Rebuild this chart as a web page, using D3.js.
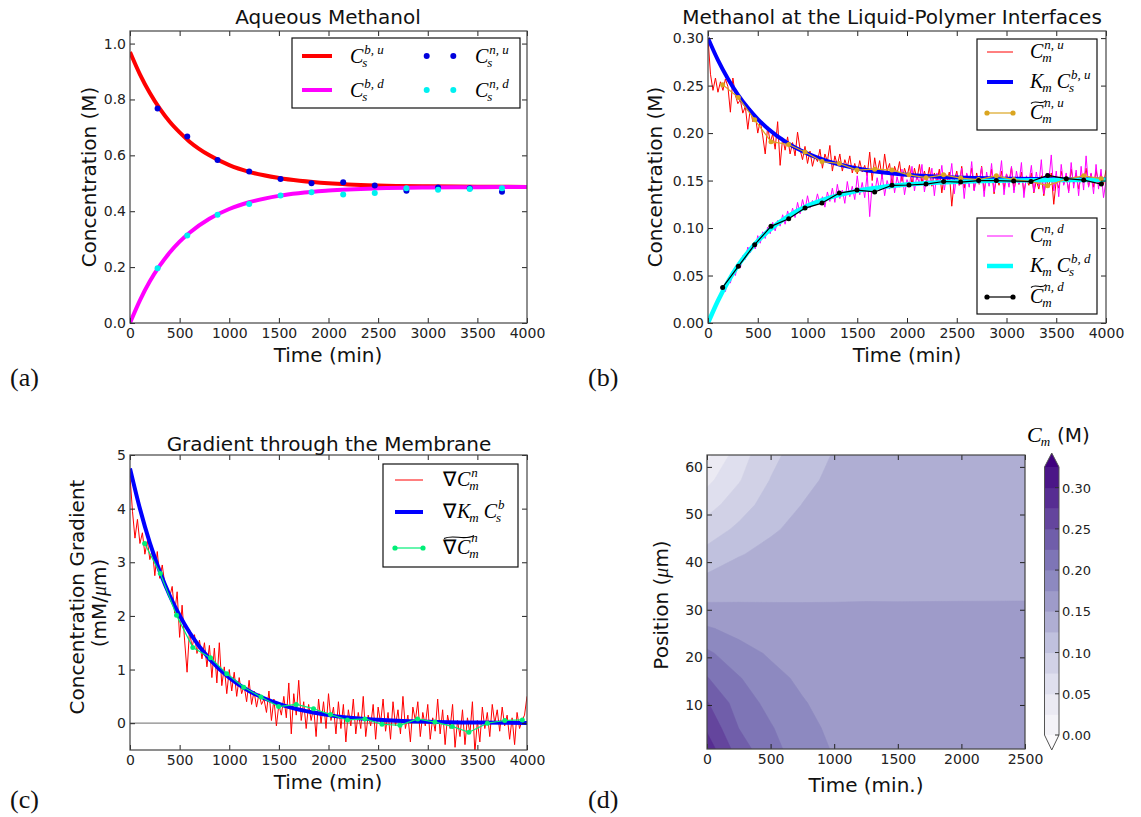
<!DOCTYPE html>
<html><head><meta charset="utf-8">
<script src="https://cdn.jsdelivr.net/npm/d3@7"></script>
<style>body{margin:0;background:#fff}svg{display:block}</style>
</head><body>
<svg id="fig" width="1141" height="817"></svg>
<script>
// ---------------- DATA ----------------
const curveTimes = [0,100,200,300,400,500,600,800,1000,1200,1500,2000,2500,3000,3500,4000];
// (a) aqueous methanol
const aqUpCurve   = [0.970,0.890,0.823,0.767,0.720,0.682,0.649,0.600,0.565,0.541,0.519,0.500,0.492,0.489,0.488,0.487];
const aqDownCurve = [0.000,0.081,0.149,0.205,0.252,0.291,0.323,0.373,0.408,0.432,0.455,0.474,0.482,0.485,0.486,0.487];
const aqDotTimes  = [278,577,882,1201,1517,1829,2148,2466,2785,3104,3423,3748];
const aqUpDots    = [0.768,0.667,0.583,0.542,0.515,0.500,0.504,0.492,0.473,0.485,0.482,0.470];
const aqDownDots  = [0.196,0.313,0.387,0.426,0.456,0.468,0.460,0.465,0.482,0.477,0.480,0.482];
// (b) interfaces
const ifUpCurve   = [0.300,0.2768,0.2572,0.2406,0.2266,0.2148,0.2049,0.1894,0.1784,0.1705,0.1627,0.1560,0.1531,0.1519,0.1514,0.1512];
const ifDownCurve = [0.000,0.0235,0.0434,0.0602,0.0743,0.0863,0.0964,0.1121,0.1233,0.1312,0.1391,0.1459,0.1488,0.1501,0.1506,0.1508];
const noisyTimes  = d3.range(0, 4001, 25);
const ifUpNoisy = [
 .300,.262,.245,.258,.243,.254,.245,.257,.249,.222,.258,.240,.231,.235,.221,.228,.204,.226,.212,.219,
 .200,.213,.197,.178,.207,.190,.199,.183,.212,.166,.195,.182,.196,.178,.190,.176,.201,.183,.172,.186,
 .168,.181,.165,.176,.170,.183,.163,.178,.170,.187,.160,.176,.166,.178,.160,.172,.164,.176,.158,.168,
 .157,.171,.159,.166,.155,.180,.150,.174,.158,.171,.152,.178,.160,.168,.146,.165,.157,.170,.149,.163,
 .154,.166,.145,.163,.151,.167,.147,.160,.150,.164,.144,.158,.149,.162,.137,.156,.147,.159,.123,.150,
 .160,.145,.165,.142,.157,.148,.163,.140,.158,.146,.165,.139,.155,.147,.162,.136,.154,.145,.160,.141,
 .157,.148,.164,.140,.153,.146,.159,.138,.152,.145,.158,.137,.150,.141,.155,.134,.151,.144,.158,.125,
 .150,.142,.160,.146,.155,.139,.162,.147,.158,.141,.156,.148,.163,.144,.157,.143,.161,.148,.157,.146,
 .161];
const ifDownNoisy = [
 .000,.008,.011,.019,.024,.027,.036,.033,.046,.042,.054,.050,.063,.058,.071,.067,.080,.074,.083,.078,
 .092,.084,.096,.089,.101,.094,.106,.097,.108,.102,.114,.104,.118,.109,.121,.111,.127,.115,.130,.119,
 .134,.121,.129,.124,.136,.125,.133,.122,.138,.128,.142,.127,.146,.131,.140,.126,.149,.133,.144,.130,
 .155,.135,.148,.132,.158,.112,.147,.136,.153,.139,.157,.134,.150,.141,.160,.137,.154,.143,.162,.135,
 .151,.144,.165,.139,.156,.146,.167,.138,.154,.145,.163,.134,.158,.147,.166,.140,.156,.148,.168,.136,
 .157,.145,.163,.131,.158,.143,.170,.139,.155,.147,.164,.133,.159,.144,.168,.138,.156,.148,.171,.135,
 .157,.143,.165,.137,.160,.146,.169,.132,.155,.148,.166,.138,.159,.144,.172,.136,.158,.149,.177,.139,
 .160,.133,.167,.145,.158,.137,.169,.142,.161,.134,.165,.140,.176,.143,.158,.136,.167,.141,.162,.132,
 .150];
const avgTimes  = [147,305,469,633,811,975,1146,1320,1497,1675,1849,2020,2191,2368,2539,2720,2898,3072,3246,3414,3601,3776,3953];
const ifUpAvg   = [0.251,0.2375,0.214,0.191,0.188,0.180,0.170,0.168,0.161,0.162,0.161,0.156,0.153,0.156,0.1526,0.151,0.155,0.151,0.149,0.1446,0.1516,0.155,0.152];
const ifDownAvg = [0.0375,0.0597,0.0825,0.1018,0.1098,0.121,0.1263,0.1368,0.140,0.138,0.145,0.1453,0.1463,0.149,0.1484,0.150,0.150,0.1495,0.149,0.1554,0.152,0.1505,0.1463];
// (c) gradient
const gradCurve = [4.75,4.00,3.36,2.83,2.38,2.01,1.69,1.20,0.85,0.60,0.36,0.15,0.064,0.027,0.011,0.005];
const gradNoisy = [
 4.60,3.95,3.45,3.80,3.35,3.55,3.15,3.40,3.05,3.25,2.75,3.20,2.70,2.95,2.60,2.45,2.35,2.55,2.05,2.45,
 1.60,2.20,1.55,0.95,1.75,1.40,1.65,1.30,1.55,1.20,1.50,1.05,1.45,0.85,1.40,0.75,1.50,0.70,1.05,0.55,
 1.00,0.60,0.95,0.50,0.85,0.55,0.70,0.40,0.80,0.35,0.60,0.30,0.55,0.35,0.45,0.20,0.60,0.05,0.45,-0.05,
 0.35,0.15,0.50,0.10,0.75,-0.20,0.55,0.15,0.80,0.05,0.40,-0.10,0.35,0.05,0.30,-0.25,0.45,0.00,0.40,-0.10,
 0.55,0.05,0.30,-0.20,0.40,-0.10,0.35,-0.35,0.25,-0.05,0.45,-0.20,0.20,-0.10,0.50,-0.25,0.15,-0.05,0.35,-0.30,
 0.30,0.00,0.45,-0.15,0.20,-0.30,0.40,-0.05,0.25,-0.20,0.50,-0.10,0.15,-0.35,0.30,0.05,0.40,-0.25,0.20,-0.05,
 0.35,-0.30,0.10,-0.15,0.45,-0.20,0.25,-0.40,0.15,-0.10,0.35,-0.45,0.05,-0.25,0.25,-0.40,0.10,-0.20,0.40,-0.55,
 0.05,-0.35,0.30,-0.10,0.20,-0.25,0.35,0.00,0.25,-0.15,0.30,-0.05,0.15,-0.30,0.10,-0.40,0.20,-0.10,0.05,0.15,
 0.50];
const gradAvg = [3.35,2.79,2.01,1.41,1.22,0.92,0.67,0.49,0.31,0.35,0.27,0.16,0.06,0.08,-0.02,-0.04,0.08,0.02,-0.06,-0.17,0.00,0.05,0.06];
// (d) concentration field: rows = positions (bottom to top), columns = times
const cmTimes = [0,250,500,750,1000,1250,1500,1750,2000,2250,2500];
const cmPositions = [0,5.208,10.417,15.625,20.833,26.042,31.25,36.458,41.667,46.875,52.083,57.292,62.5];
const cmGrid = [
 [0.2920,0.2400,0.2084,0.1888,0.1735,0.1660,0.1600,0.1570,0.1550,0.1540,0.1530],
 [0.2707,0.2245,0.2020,0.1828,0.1696,0.1634,0.1584,0.1559,0.1541,0.1534,0.1526],
 [0.2520,0.2131,0.1928,0.1768,0.1658,0.1608,0.1568,0.1548,0.1533,0.1528,0.1522],
 [0.2264,0.2017,0.1825,0.1703,0.1619,0.1582,0.1552,0.1537,0.1525,0.1522,0.1518],
 [0.2048,0.1846,0.1720,0.1637,0.1580,0.1556,0.1536,0.1526,0.1517,0.1516,0.1514],
 [0.1776,0.1673,0.1613,0.1570,0.1542,0.1530,0.1520,0.1515,0.1510,0.1510,0.1508],
 [0.1512,0.1508,0.1505,0.1503,0.1503,0.1503,0.1502,0.1502,0.1502,0.1502,0.1502],
 [0.1300,0.1372,0.1411,0.1441,0.1455,0.1470,0.1478,0.1480,0.1482,0.1483,0.1484],
 [0.1082,0.1234,0.1317,0.1378,0.1417,0.1446,0.1464,0.1474,0.1480,0.1485,0.1488],
 [0.0863,0.1053,0.1220,0.1316,0.1378,0.1422,0.1448,0.1463,0.1472,0.1480,0.1484],
 [0.0652,0.0879,0.1114,0.1254,0.1340,0.1398,0.1432,0.1452,0.1464,0.1475,0.1480],
 [0.0432,0.0728,0.1008,0.1189,0.1302,0.1374,0.1416,0.1441,0.1456,0.1470,0.1476],
 [0.0180,0.0640,0.0932,0.1125,0.1265,0.1350,0.1400,0.1430,0.1448,0.1465,0.1472]];
const cmLevels = [0,0.025,0.05,0.075,0.1,0.125,0.15,0.175,0.2,0.225,0.25,0.275,0.3,0.325];
const cbTicks = [0,0.05,0.1,0.15,0.2,0.25,0.3];

// ---------------- DRAWING ----------------
const svg = d3.select('#fig');
const FONT = 'DejaVu Sans', SERIF = 'Liberation Serif';
const tick = d3.range(0,4001,500);

function clip(id, x, y){
  const [x0,x1]=x.range(), [yb,yt]=y.range();
  svg.append('clipPath').attr('id',id).append('rect').attr('x',x0).attr('y',yt).attr('width',x1-x0).attr('height',yb-yt);
  return `url(#${id})`;
}
function style(sel){
  sel.attr('font-family',null).attr('font-size',null);
  sel.select('.domain').remove();
  sel.selectAll('line').attr('stroke','#222');
  sel.selectAll('text').attr('font-family',FONT).attr('font-size',14).attr('fill','#222');
}
function axes(x, y, xt, yt, fx, fy, stroke){
  const [x0,x1]=x.range(), [yb,yt0]=y.range();
  const g = svg.append('g');
  g.append('g').attr('transform',`translate(0,${yb})`).call(d3.axisBottom(x).tickValues(xt).tickFormat(fx).tickSizeInner(-5).tickSizeOuter(0).tickPadding(5)).call(style);
  g.append('g').attr('transform',`translate(0,${yt0})`).call(d3.axisTop(x).tickValues(xt).tickFormat('').tickSizeInner(-5).tickSizeOuter(0)).call(style);
  g.append('g').attr('transform',`translate(${x0},0)`).call(d3.axisLeft(y).tickValues(yt).tickFormat(fy).tickSizeInner(-5).tickSizeOuter(0).tickPadding(4)).call(style);
  g.append('g').attr('transform',`translate(${x1},0)`).call(d3.axisRight(y).tickValues(yt).tickFormat('').tickSizeInner(-5).tickSizeOuter(0)).call(style);
  g.append('rect').attr('x',x0).attr('y',yt0).attr('width',x1-x0).attr('height',yb-yt0).attr('fill','none').attr('stroke',stroke||'#444').attr('stroke-width',1.2);
}
function txt(x,y,s,size,opts={}){
  const t = svg.append('text').attr('x',x).attr('y',y).attr('font-family',opts.family||FONT).attr('font-size',size).attr('fill','#111').attr('text-anchor',opts.anchor||'middle').text(s);
  if(opts.rotate) t.attr('transform',`rotate(-90,${x},${y})`);
  return t;
}
function math(g,x,y,parts,opts={}){
  const size=opts.size||20, ss=13;
  let cx=x;
  parts.forEach(p=>{
    if(p.space){cx+=p.space;return;}
    const t=g.append('text').attr('x',cx).attr('y',y).attr('font-family',SERIF).attr('font-size',size)
      .attr('font-style',p.up?'normal':'italic').attr('fill','#000').text(p.b);
    const w=t.node().getComputedTextLength();
    let extra=0;
    if(p.sub){const s=g.append('text').attr('x',cx+w-1).attr('y',y+4).attr('font-family',SERIF).attr('font-size',ss).attr('font-style','italic').text(p.sub);
      extra=Math.max(extra,s.node().getComputedTextLength()-1);}
    if(p.sup){const s=g.append('text').attr('x',cx+w+1).attr('y',y-(opts.supUp||9)).attr('font-family',SERIF).attr('font-size',ss).attr('font-style','italic').text(p.sup);
      extra=Math.max(extra,s.node().getComputedTextLength()+1);}
    cx+=w+extra+1;
  });
  if(opts.tilde){
    const w=opts.tilde, yT=y-17, x0=x+1;
    g.append('path').attr('d',`M${x0},${yT+1.5} C${x0+w*0.3},${yT-3} ${x0+w*0.7},${yT+4} ${x0+w},${yT-1.5}`)
      .attr('fill','none').attr('stroke','#000').attr('stroke-width',1.1);
  }
}
function legBox(x0,y0,x1,y1){
  const g=svg.append('g');
  g.append('rect').attr('x',x0).attr('y',y0).attr('width',x1-x0).attr('height',y1-y0).attr('fill','#fff').attr('stroke','#111').attr('stroke-width',1.2);
  return g;
}
function legLine(g,x0,x1,y,color,w,marker){
  g.append('line').attr('x1',x0).attr('x2',x1).attr('y1',y).attr('y2',y).attr('stroke',color).attr('stroke-width',w);
  if(marker){[x0,x1].forEach(xx=>g.append('circle').attr('cx',xx).attr('cy',y).attr('r',2.6).attr('fill',marker));}
}
function plotLine(x,y,xs,ys,color,w,cp,curve){
  svg.append('path').datum(xs.map((t,i)=>[t,ys[i]])).attr('clip-path',cp)
    .attr('d',d3.line().x(d=>x(d[0])).y(d=>y(d[1])).curve(curve||d3.curveLinear))
    .attr('fill','none').attr('stroke',color).attr('stroke-width',w).attr('stroke-linejoin','round');
}
function plotDots(x,y,xs,ys,color,r,cp){
  svg.append('g').attr('clip-path',cp).selectAll('circle').data(xs.map((t,i)=>[t,ys[i]])).join('circle')
    .attr('cx',d=>x(d[0])).attr('cy',d=>y(d[1])).attr('r',r).attr('fill',color);
}

// ---------- Panel (a) ----------
{
  const x=d3.scaleLinear([0,4000],[130,527]), y=d3.scaleLinear([0,1.045],[323,31]);
  const cp=clip('ca',x,y);
  plotLine(x,y,curveTimes,aqUpCurve,'#ff0000',4,cp,d3.curveMonotoneX);
  plotLine(x,y,curveTimes,aqDownCurve,'#ff00ff',4,cp,d3.curveMonotoneX);
  plotDots(x,y,aqDotTimes,aqUpDots,'#0000dd',3,cp);
  plotDots(x,y,aqDotTimes,aqDownDots,'#00f0f0',3,cp);
  axes(x,y,tick,[0,0.2,0.4,0.6,0.8,1.0],d3.format('d'),d3.format('.1f'));
  const g=legBox(292,38,520,108);
  legLine(g,302,332,56,'#ff0000',4); legLine(g,302,332,90,'#ff00ff',4);
  [426.7,453.3].forEach(xx=>{g.append('circle').attr('cx',xx).attr('cy',56).attr('r',3).attr('fill','#0000dd');
    g.append('circle').attr('cx',xx).attr('cy',90).attr('r',3).attr('fill','#00f0f0');});
  math(g,350,63,[{b:'C',sub:'s',sup:'b, u'}]);
  math(g,350,97,[{b:'C',sub:'s',sup:'b, d'}]);
  math(g,475,63,[{b:'C',sub:'s',sup:'n, u'}]);
  math(g,475,97,[{b:'C',sub:'s',sup:'n, d'}]);
  txt(328,24,'Aqueous Methanol',20);
  txt(328,362,'Time (min)',20);
  txt(96,177,'Concentration (M)',20,{rotate:true});
  txt(10,386,'(a)',26,{family:SERIF,anchor:'start'});
}
// ---------- Panel (b) ----------
{
  const x=d3.scaleLinear([0,4000],[708,1106]), y=d3.scaleLinear([0,0.3075],[323,31]);
  const cp=clip('cb',x,y);
  plotLine(x,y,noisyTimes,ifUpNoisy,'#ff0000',1,cp);
  plotLine(x,y,noisyTimes,ifDownNoisy,'#ff00ff',1,cp);
  plotLine(x,y,curveTimes,ifUpCurve,'#0000ff',4,cp,d3.curveMonotoneX);
  plotLine(x,y,curveTimes,ifDownCurve,'#00ffff',4.5,cp,d3.curveMonotoneX);
  plotLine(x,y,avgTimes,ifUpAvg,'#daa520',1.2,cp); plotDots(x,y,avgTimes,ifUpAvg,'#daa520',2.5,cp);
  plotLine(x,y,avgTimes,ifDownAvg,'#000000',1.2,cp); plotDots(x,y,avgTimes,ifDownAvg,'#000000',2.5,cp);
  axes(x,y,tick,[0,0.05,0.1,0.15,0.2,0.25,0.3],d3.format('d'),d3.format('.2f'));
  let g=legBox(977,39,1097,130);
  legLine(g,987,1013,52,'#ff0000',1); legLine(g,987,1013,82,'#0000ff',4); legLine(g,987,1013,113,'#daa520',1.2,'#daa520');
  math(g,1030,58,[{b:'C',sub:'m',sup:'n, u'}]);
  math(g,1030,88,[{b:'K',sub:'m'},{space:4},{b:'C',sub:'s',sup:'b, u'}]);
  math(g,1030,119,[{b:'C',sub:'m',sup:'n, u'}],{tilde:15,supUp:12});
  g=legBox(977,218,1097,314);
  legLine(g,987,1013,236,'#ff00ff',1); legLine(g,987,1013,266,'#00ffff',4.5); legLine(g,987,1013,297,'#000',1.2,'#000');
  math(g,1030,242,[{b:'C',sub:'m',sup:'n, d'}]);
  math(g,1030,272,[{b:'K',sub:'m'},{space:4},{b:'C',sub:'s',sup:'b, d'}]);
  math(g,1030,303,[{b:'C',sub:'m',sup:'n, d'}],{tilde:15,supUp:12});
  txt(892,24,'Methanol at the Liquid-Polymer Interfaces',20);
  txt(907,362,'Time (min)',20);
  txt(662,177,'Concentration (M)',20,{rotate:true});
  txt(588,386,'(b)',26,{family:SERIF,anchor:'start'});
}
// ---------- Panel (c) ----------
{
  const x=d3.scaleLinear([0,4000],[130,527]), y=d3.scaleLinear([-0.5,5],[750,455]);
  const cp=clip('cc',x,y);
  svg.append('line').attr('x1',x(0)).attr('x2',x(4000)).attr('y1',y(0)).attr('y2',y(0)).attr('stroke','#888').attr('stroke-width',1.2);
  plotLine(x,y,noisyTimes,gradNoisy,'#ff0000',1,cp);
  plotLine(x,y,curveTimes,gradCurve,'#0000ff',4,cp,d3.curveMonotoneX);
  plotLine(x,y,avgTimes,gradAvg,'#00ee77',1.2,cp); plotDots(x,y,avgTimes,gradAvg,'#00ee77',2.5,cp);
  axes(x,y,tick,[0,1,2,3,4,5],d3.format('d'),d3.format('d'));
  const g=legBox(383,464,518,567);
  legLine(g,395,423,480,'#ff0000',1); legLine(g,395,423,512,'#0000ff',4); legLine(g,395,423,548,'#00ee77',1.2,'#00ee77');
  math(g,443,486,[{b:'∇',up:true},{b:'C',sub:'m',sup:'n'}]);
  math(g,443,518,[{b:'∇',up:true},{b:'K',sub:'m'},{space:4},{b:'C',sub:'s',sup:'b'}]);
  math(g,443,554,[{b:'∇',up:true},{b:'C',sub:'m',sup:'n'}],{tilde:30,supUp:12});
  txt(329,451,'Gradient through the Membrane',20);
  txt(328,789,'Time (min)',20);
  txt(84,597,'Concentration Gradient',20,{rotate:true});
  const t=txt(106,603,'(mM/',20,{rotate:true});
  t.append('tspan').attr('font-family',SERIF).attr('font-style','italic').text('μ');
  t.append('tspan').text('m)');
  txt(10,808,'(c)',26,{family:SERIF,anchor:'start'});
}
// ---------- Panel (d) ----------
{
  const x=d3.scaleLinear([0,2500],[707,1025]), y=d3.scaleLinear([0.75,62.5],[749,455]);
  const cp=clip('cd',x,y);
  const nx=cmTimes.length, ny=cmPositions.length;
  const flat=[]; cmGrid.forEach(row=>row.forEach(v=>flat.push(v)));
  // d3.contours places sample i at grid coordinate i + 0.5
  const gx=d3.scaleLinear([0.5,nx-0.5],[cmTimes[0],cmTimes[nx-1]]);
  const gy=d3.scaleLinear([0.5,ny-0.5],[cmPositions[0],cmPositions[ny-1]]);
  const color=i=>d3.interpolatePurples((i+1)/(cmLevels.length));
  const contours=d3.contours().size([nx,ny]).thresholds(cmLevels)(flat);
  const g=svg.append('g').attr('clip-path',cp);
  g.append('rect').attr('x',707).attr('y',455).attr('width',318).attr('height',294).attr('fill',d3.interpolatePurples(0));
  const pathOf=c=>c.coordinates.map(poly=>poly.map(ring=>'M'+ring.map(p=>[x(gx(p[0])),y(gy(p[1]))].join(',')).join('L')+'Z').join('')).join('');
  contours.forEach(c=>{
    const idx=cmLevels.indexOf(c.value);
    const fill= idx>=cmLevels.length-1 ? d3.interpolatePurples(1) : color(idx);
    g.append('path').attr('d',pathOf(c)).attr('fill',fill).attr('stroke',fill).attr('stroke-width',0.6).attr('fill-rule','evenodd');
  });
  axes(x,y,[0,500,1000,1500,2000,2500],[10,20,30,40,50,60],d3.format('d'),d3.format('d'),'#444');
  txt(866,792,'Time (min.)',20);
  const t=txt(668,605,'Position (',20,{rotate:true});
  t.append('tspan').attr('font-family',SERIF).attr('font-style','italic').text('μ');
  t.append('tspan').text('m)');
  txt(588,808,'(d)',26,{family:SERIF,anchor:'start'});
  // colorbar
  const cb=d3.scaleLinear([0,0.325],[735,467]);
  const cg=svg.append('g');
  const bx0=1044.5,bx1=1059;
  for(let i=0;i<cmLevels.length-1;i++){
    cg.append('rect').attr('x',bx0).attr('width',bx1-bx0).attr('y',cb(cmLevels[i+1])).attr('height',cb(cmLevels[i])-cb(cmLevels[i+1])+0.5).attr('fill',color(i));
  }
  const mid=(bx0+bx1)/2;
  cg.append('path').attr('d',`M${bx0},${cb(0.325)}L${mid},453L${bx1},${cb(0.325)}Z`).attr('fill',d3.interpolatePurples(1));
  cg.append('path').attr('d',`M${bx0},${cb(0)}L${mid},750L${bx1},${cb(0)}Z`).attr('fill',d3.interpolatePurples(0));
  cg.append('path').attr('d',`M${bx0},${cb(0.325)}L${mid},453L${bx1},${cb(0.325)}L${bx1},${cb(0)}L${mid},750L${bx0},${cb(0)}Z`)
    .attr('fill','none').attr('stroke','#555').attr('stroke-width',1);
  cbTicks.forEach(v=>{
    cg.append('line').attr('x1',bx1-4).attr('x2',bx1).attr('y1',cb(v)).attr('y2',cb(v)).attr('stroke','#333');
    cg.append('text').attr('x',bx1+3).attr('y',cb(v)+5).attr('font-family',FONT).attr('font-size',13).attr('fill','#222').text(d3.format('.2f')(v));
  });
  const tg=svg.append('g');
  math(tg,1027,442,[{b:'C',sub:'m'}],{size:22});
  tg.append('text').attr('x',1057).attr('y',442).attr('font-family',FONT).attr('font-size',20).attr('fill','#111').text('(M)');
}
</script>
</body></html>
